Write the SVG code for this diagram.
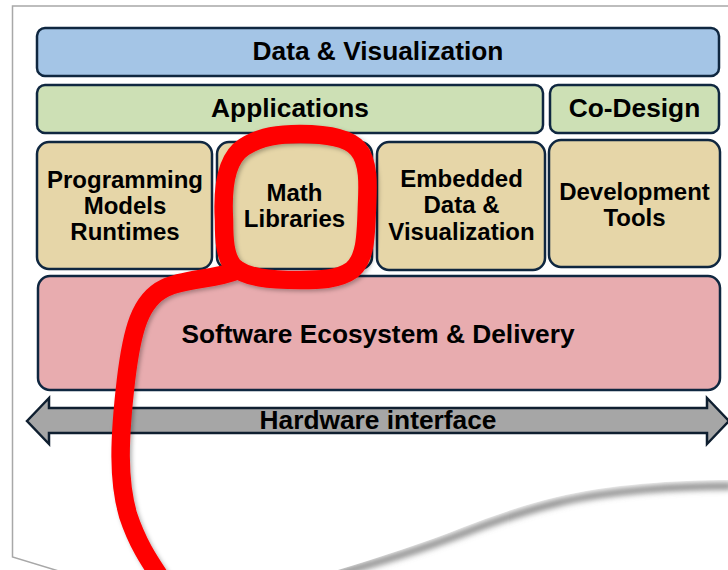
<svg xmlns="http://www.w3.org/2000/svg" width="728" height="570" viewBox="0 0 728 570">
  <defs>
    <style>
      .box { stroke: #0f2740; stroke-width: 2.5; }
      .blue { fill: #a4c5e6; }
      .green { fill: #cde0b5; }
      .tan { fill: #e6d6a8; }
      .pink { fill: #e8acaf; }
      .lbl { font-family: "Liberation Sans", Arial, sans-serif; font-weight: bold; fill: #000; text-anchor: middle; }
      .big { font-size: 26.3px; }
      .mid { font-size: 24px; }
      .edge { fill: none; stroke: #a8a8a8; stroke-width: 1.5; }
      .ink { fill: none; stroke: #ff0000; stroke-width: 18.5; stroke-linecap: round; stroke-linejoin: round; }
    </style>
    <filter id="blur" x="-10%" y="-50%" width="120%" height="200%">
      <feGaussianBlur stdDeviation="3"/>
    </filter>
    <filter id="inkshadow" x="-20%" y="-20%" width="140%" height="140%">
      <feDropShadow dx="2" dy="2" stdDeviation="2" flood-color="#000" flood-opacity="0.3"/>
    </filter>
  </defs>

  <rect width="728" height="570" fill="#ffffff"/>

  <!-- page -->
  <g id="page">
    <path d="M325,577 C370,565 420,550 464,533 C490,523 520,512 557,503 C610,490 680,486 732,486" fill="none" stroke="#777" stroke-width="6" filter="url(#blur)"/>
    <path d="M12.5,6 H732 V480 C680,480 610,484 557,497 C520,506 490,517 464,527 C420,545 370,560 325,574 L60,574 L12.5,557 Z" fill="#ffffff"/>
    <path class="edge" d="M732,6 H12.5 V557 L62,572"/>
  </g>

  <g id="data-visualization">
    <rect class="box blue" x="37" y="28" width="682" height="48" rx="8"/>
    <text class="lbl big" x="378" y="60">Data &amp; Visualization</text>
  </g>

  <g id="applications">
    <rect class="box green" x="37" y="85" width="506" height="48" rx="8"/>
    <text class="lbl big" x="290" y="117">Applications</text>
  </g>

  <g id="co-design">
    <rect class="box green" x="550" y="85" width="169" height="48" rx="8"/>
    <text class="lbl big" x="634.5" y="117">Co-Design</text>
  </g>

  <g id="programming-models">
    <rect class="box tan" x="37" y="142" width="175" height="127" rx="12"/>
    <text class="lbl mid" x="125" y="188">Programming</text>
    <text class="lbl mid" x="125" y="214">Models</text>
    <text class="lbl mid" x="125" y="240">Runtimes</text>
  </g>

  <g id="math-libraries">
    <rect class="box tan" x="217" y="142" width="155" height="127" rx="12"/>
    <text class="lbl mid" x="294.5" y="201">Math</text>
    <text class="lbl mid" x="294.5" y="227">Libraries</text>
  </g>

  <g id="embedded-data-visualization">
    <rect class="box tan" x="377" y="142" width="168" height="128" rx="12"/>
    <text class="lbl mid" x="461.5" y="187">Embedded</text>
    <text class="lbl mid" x="461.5" y="213">Data &amp;</text>
    <text class="lbl mid" x="461.5" y="239.5">Visualization</text>
  </g>

  <g id="development-tools">
    <rect class="box tan" x="549" y="140" width="171" height="127" rx="12"/>
    <text class="lbl mid" x="634.5" y="199.5">Development</text>
    <text class="lbl mid" x="634.5" y="226">Tools</text>
  </g>

  <g id="software-ecosystem">
    <rect class="box pink" x="38" y="276" width="682" height="114" rx="12"/>
    <text class="lbl big" x="378" y="343">Software Ecosystem &amp; Delivery</text>
  </g>

  <g id="connectors">
    <g id="hardware-interface">
      <path d="M27,421 L49,398 V408 H707 V398 L729,421 L707,444 V433 H49 V444 Z" fill="#a6a6a6" stroke="#0f1f30" stroke-width="2.5" stroke-linejoin="miter"/>
      <text class="lbl big" x="378" y="429">Hardware interface</text>
    </g>
  </g>

  <!-- hand-drawn annotation -->
  <g id="annotation" filter="url(#inkshadow)">
    <path class="ink" d="M224,220 C222,185 227,158 244,147 C261,136 280,134 300,134 C325,134 348,137 358,149 C369,162 368,185 367,205 C366,235 366,258 352,270 C338,280 318,280 300,280 C270,280 245,278 233,266 C225,256 224,240 224,220 Z"/>
    <path class="ink" d="M238,270 C215,280 185,278 165,288 C140,300 132,330 126,380 C119,440 118,480 128,515 C138,545 150,562 162,580"/>
  </g>
</svg>
